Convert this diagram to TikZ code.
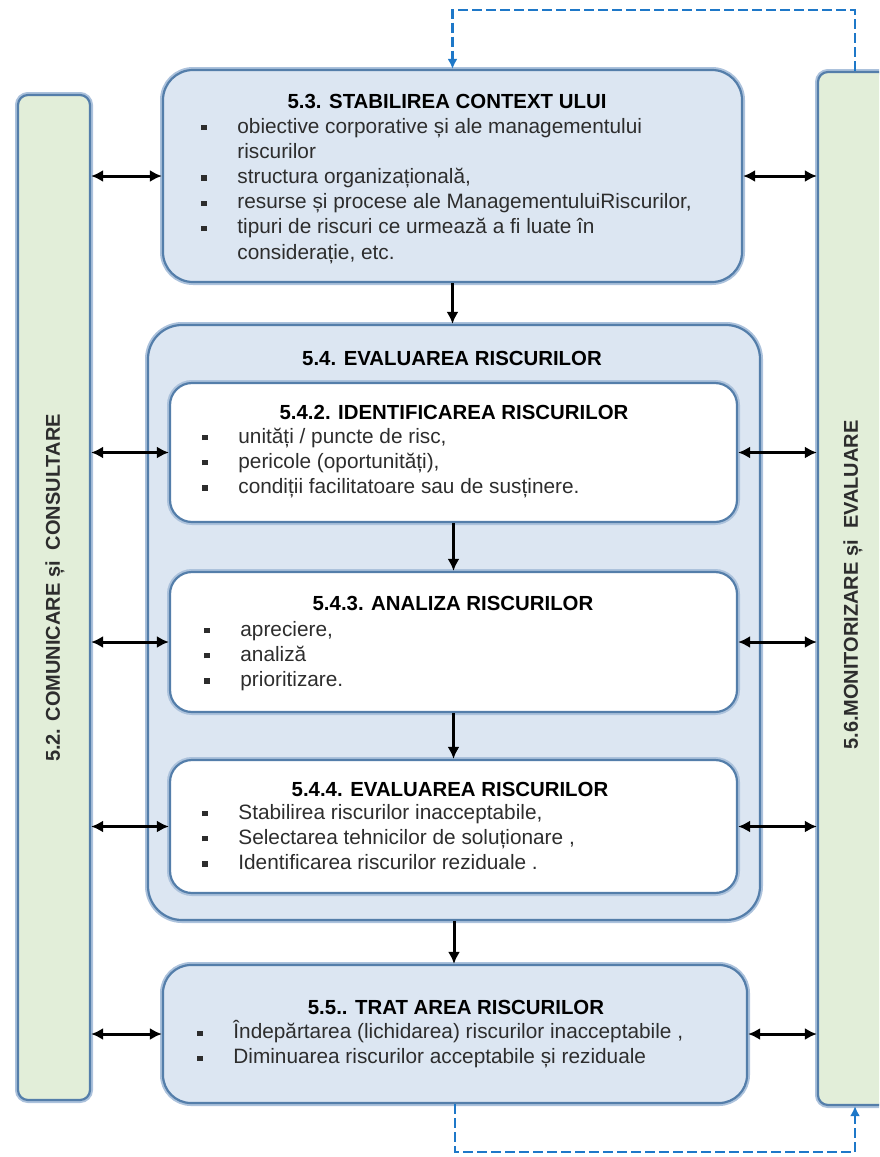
\documentclass[tikz,border=0pt]{standalone}
\usepackage{fontspec}
\setmainfont{Liberation Sans}
\usetikzlibrary{arrows.meta,fit,positioning}
\definecolor{boxblue}{RGB}{220,230,242}
\definecolor{boxgreen}{RGB}{226,238,217}
\definecolor{edgeblue}{RGB}{84,126,170}
\definecolor{shadeblue}{RGB}{172,194,220}
\definecolor{dashblue}{RGB}{30,120,200}
\definecolor{txtgray}{RGB}{45,45,45}
\newcommand{\itm}{\strut\makebox[18pt][l]{\rule[1.4pt]{2.6pt}{2.6pt}}}
\newcommand{\cnt}{\strut\hspace*{18pt}}

\begin{document}
\begin{tikzpicture}[x=0.5pt, y=-0.5pt, >={Latex[length=6pt,width=6pt]},
    blk/.style={draw=edgeblue, line width=1.1pt, fill=boxblue, inner sep=0pt,
        preaction={draw=shadeblue, line width=3pt}},
    inr/.style={blk, fill=white, rounded corners=11pt},
    side/.style={blk, fill=boxgreen, rounded corners=5pt},
    ttl/.style={font=\fontsize{10.2}{12}\selectfont\bfseries, inner sep=0pt},
    lst/.style={font=\fontsize{10.4}{12.6}\selectfont, text=txtgray, align=left,
        inner sep=0pt, anchor=north west},
    vtxt/.style={font=\fontsize{10}{12}\selectfont\bfseries, text=txtgray, rotate=90, inner sep=0pt},
    dbl/.style={<->, line width=1.5pt},
    dn/.style={->, line width=1.5pt},
    fb/.style={-{Latex[length=5pt,width=5pt]}, draw=dashblue, line width=1.3pt, dash pattern=on 5pt off 2pt}]
        \clip (0,0) rectangle (879,1157);

        % Side boxes
        \node[side, fit={(18,95) (90,1100)}] (Com) {};
        \node[side, fit={(818,72) (930,1105)}] (Mon) {};
        \node[vtxt] (ComT) at (55,588) {5.2. COMUNICARE și~ CONSULTARE};
        \node[vtxt] (MonT) at (853,585) {5.6.MONITORIZARE și~ EVALUARE};

        % 5.3
        \node[blk, rounded corners=15pt, fit={(163,70) (742,282)}] (Ctx) {};
        \node[ttl] (CtxT) at (447,101) {5.3. STABILIREA CONTEXT ULUI};
        \node[lst] (CtxL) at (201,115) {\itm obiective corporative și ale managementului\\
            \cnt riscurilor\\
            \itm structura organizațională,\\
            \itm resurse și procese ale ManagementuluiRiscurilor,\\
            \itm tipuri de riscuri ce urmează a fi luate în\\
            \cnt considerație, etc.};

        % 5.4
        \node[blk, rounded corners=17pt, fit={(148,325) (760,920)}] (Eval) {};
        \node[ttl] (EvalT) at (452,358) {5.4. EVALUAREA RISCURILOR};

        \node[inr, fit={(170,383) (737,522)}] (Ident) {};
        \node[ttl] (IdentT) at (454,412) {5.4.2. IDENTIFICAREA RISCURILOR};
        \node[lst] (IdentL) at (202,425) {\itm unități / puncte de risc,\\
            \itm pericole (oportunități),\\
            \itm condiții facilitatoare sau de susținere.};

        \node[inr, fit={(170,572) (737,712)}] (Anal) {};
        \node[ttl] (AnalT) at (453,603) {5.4.3. ANALIZA RISCURILOR};
        \node[lst] (AnalL) at (204,618) {\itm apreciere,\\
            \itm analiză\\
            \itm prioritizare.};

        \node[inr, fit={(170,760) (737,893)}] (EvalR) {};
        \node[ttl] (EvalRT) at (450,789) {5.4.4. EVALUAREA RISCURILOR};
        \node[lst] (EvalRL) at (202,801) {\itm Stabilirea riscurilor inacceptabile,\\
            \itm Selectarea tehnicilor de soluționare ,\\
            \itm Identificarea riscurilor reziduale .};

        % 5.5
        \node[blk, rounded corners=14pt, fit={(163,965) (747,1103)}] (Trat) {};
        \node[ttl] (TratT) at (456,1007) {5.5.. TRAT AREA RISCURILOR};
        \node[lst] (TratL) at (197,1020) {\itm Îndepărtarea (lichidarea) riscurilor inacceptabile ,\\
            \itm Diminuarea riscurilor acceptabile și reziduale};

        % Flow down
        \draw[dn] (Ctx.south) -- (Ctx.south |- Eval.north);
        \draw[dn] (Ident.south) -- (Anal.north);
        \draw[dn] (Anal.south) -- (EvalR.north);
        \draw[dn] (Eval.south) -- (Eval.south |- Trat.north);

        % Links to 5.2
        \draw[dbl] (Com.east |- Ctx.west) -- (Ctx.west);
        \draw[dbl] (Com.east |- Ident.west) -- (Ident.west);
        \draw[dbl] (Com.east |- Anal.west) -- (Anal.west);
        \draw[dbl] (Com.east |- EvalR.west) -- (EvalR.west);
        \draw[dbl] (Com.east |- Trat.west) -- (Trat.west);

        % Links to 5.6
        \draw[dbl] (Ctx.east) -- (Ctx.east -| Mon.west);
        \draw[dbl] (Ident.east) -- (Ident.east -| Mon.west);
        \draw[dbl] (Anal.east) -- (Anal.east -| Mon.west);
        \draw[dbl] (EvalR.east) -- (EvalR.east -| Mon.west);
        \draw[dbl] (Trat.east) -- (Trat.east -| Mon.west);

        % Feedback loops
        \coordinate (FbTop) at (855,10);
        \coordinate (FbBot) at (855,1152);
        \draw[fb] (FbTop |- Mon.north) -- (FbTop) -| (Ctx.north);
        \draw[fb] (Trat.south) |- (FbBot) -- (FbBot |- Mon.south);
    \end{tikzpicture}
\end{document}
